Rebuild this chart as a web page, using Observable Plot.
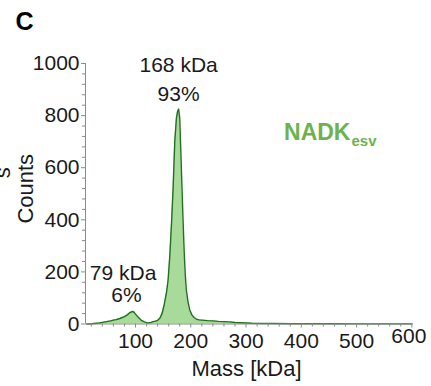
<!DOCTYPE html>
<html>
<head>
<meta charset="utf-8">
<script src="https://cdn.jsdelivr.net/npm/d3@7"></script>
<script src="https://cdn.jsdelivr.net/npm/@observablehq/plot@0.6"></script>
<style>
  html, body { margin: 0; padding: 0; background: #fff; }
  #chart svg { display: block; }
</style>
</head>
<body>
<div id="chart"></div>
<script>
// ---- data ----
const mass = [12, 20, 25, 30, 35, 40, 45, 50, 55, 60, 65, 70, 75, 80, 85, 90, 94, 97, 100, 105,
  110, 115, 120, 124, 128, 132, 136, 140, 144, 148, 152, 156, 159, 162, 165, 168, 171, 174, 176, 178,
  180, 182, 184, 186, 188, 190, 192, 195, 198, 202, 206, 210, 215, 220, 230, 240, 250, 260, 270, 280,
  290, 300, 310, 330, 350, 380, 420, 460, 500, 550, 600];
const counts = [0, 1, 2, 3, 4, 6, 8, 10, 12, 15, 17, 20, 24, 28, 35, 44, 48, 46, 38, 26,
  15, 9, 5, 4, 6, 9, 11, 14, 22, 40, 75, 120, 170, 260, 380, 520, 700, 790, 815, 825,
  790, 660, 530, 400, 280, 190, 130, 85, 55, 35, 25, 19, 16, 15, 13, 12, 10, 9, 8, 6,
  5, 4, 3, 2, 2, 1, 1, 1, 0.5, 0.5, 0.5];
const xTicks = [100, 200, 300, 400, 500, 600];
const xMinor = d3.range(20, 601, 20).filter(v => v % 100 !== 0);
const yTicks = [0, 200, 400, 600, 800, 1000];
const yMinor = d3.range(40, 1000, 40).filter(v => v % 200 !== 0);
const panelLetter = ["C"];
const xLabel = ["Mass [kDa]"];
const yLabel = ["Counts"];
const strayLabel = ["s"];
const bigPeakText = ["168 kDa", "93%"];
const smallPeakText = ["79 kDa", "6%"];
const sampleName = ["NADK"];
const sampleSub = ["esv"];

const data = mass.map((m, i) => ({mass: m, count: counts[i]}));

const font = "'Liberation Sans', Arial, Helvetica, sans-serif";
const axisGray = "#8a8a8a";
const ink = "#1a1a1a";
const green = "#6db34d";
const fs = 21;

const xMin = 9.5, xMax = 603;

const chart = Plot.plot({
  width: 431,
  height: 386,
  marginLeft: 85,
  marginRight: 18,
  marginTop: 63,
  marginBottom: 62.5,
  x: {domain: [xMin, xMax]},
  y: {domain: [0, 1000]},
  style: {fontFamily: font, fontSize: fs + "px", color: ink, background: "#fff"},
  marks: [
    Plot.areaY(data, {x: "mass", y: "count", fill: "#a3d993", fillOpacity: 0.95}),
    Plot.lineY(data, {x: "mass", y: "count", stroke: "#217021", strokeWidth: 1.4}),
    Plot.ruleY([0], {stroke: axisGray, strokeWidth: 1}),
    Plot.ruleX([xMin], {stroke: axisGray, strokeWidth: 1}),
    // y axis
    Plot.axisY(yTicks, {tickSize: 4, tickPadding: 2, stroke: axisGray, fill: ink, fontSize: fs, tickFormat: d3.format("d"), label: null}),
    Plot.axisY(yMinor, {tickSize: 3, text: null, stroke: axisGray, label: null}),
    // x axis
    Plot.axisX(xTicks, {tickSize: 4, text: null, stroke: axisGray, label: null}),
    Plot.axisX(xTicks.slice(0, 5), {tickSize: 0, tickPadding: 9, fill: ink, fontSize: fs, tickFormat: d3.format("d"), label: null}),
    Plot.axisX(xTicks.slice(5), {tickSize: 0, tickPadding: 4, dx: -3, fill: ink, fontSize: fs, tickFormat: d3.format("d"), label: null}),
    Plot.axisX(xMinor, {tickSize: 3, text: null, stroke: axisGray, label: null}),
    // axis titles
    Plot.text(xLabel, {frameAnchor: "bottom", dx: -3, dy: 52, lineAnchor: "bottom", textAnchor: "middle", text: d => d, fontSize: 22, fill: ink}),
    Plot.text(yLabel, {frameAnchor: "left", rotate: -90, dx: -60, dy: -5, lineAnchor: "middle", textAnchor: "middle", text: d => d, fontSize: 22, fill: ink}),
    Plot.text(strayLabel, {frameAnchor: "left", rotate: -90, dx: -83, dy: -21, lineAnchor: "middle", textAnchor: "middle", text: d => d, fontSize: 22, fill: ink}),
    Plot.text(panelLetter, {frameAnchor: "top-left", dx: -70, dy: -51, text: d => d, fontSize: 25, fontWeight: "bold", fill: "#000", textAnchor: "start", lineAnchor: "top"}),
    // peak annotations
    Plot.text(bigPeakText, {x: [178, 178], y: [966, 855], text: d => d, lineAnchor: "bottom", fontSize: fs, fill: ink}),
    Plot.text(smallPeakText, {x: [77.5, 83.5], y: [167, 86], text: d => d, lineAnchor: "bottom", fontSize: fs, fill: ink}),
    Plot.text(sampleName, {x: [489], y: [705], text: d => d, textAnchor: "end", lineAnchor: "bottom", fontSize: 23, fontWeight: "bold", fill: green}),
    Plot.text(sampleSub, {x: [489], y: [705], dx: 1, dy: 6, text: d => d, textAnchor: "start", lineAnchor: "bottom", fontSize: 15, fontWeight: "bold", fill: green})
  ]
});
document.getElementById("chart").appendChild(chart);
</script>
</body>
</html>
